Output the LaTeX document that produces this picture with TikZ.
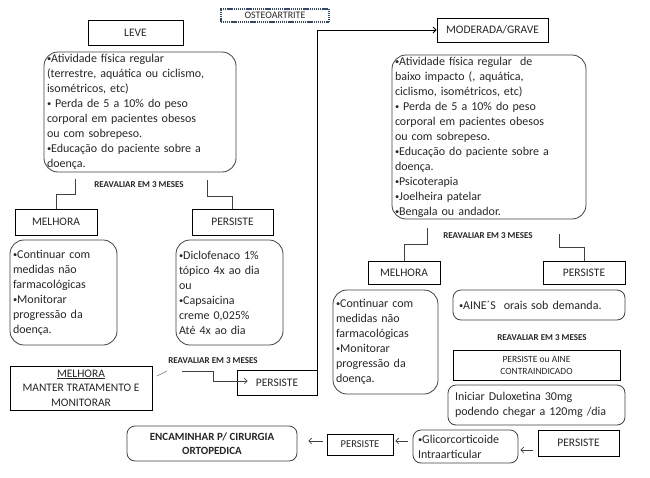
\documentclass[tikz,border=0pt]{standalone}
\usepackage{fontspec}
\setmainfont{Carlito}
\usetikzlibrary{arrows.meta,calc}
\definecolor{navy}{RGB}{47,72,120}
\newcommand\bl{\raisebox{0.12ex}{\scalebox{0.7}{•}}}
\begin{document}
\begin{tikzpicture}[x=1pt,y=-1pt,
  every node/.style={text=black!85},
  sq/.style={draw=black, line width=0.8pt, inner sep=0pt, font=\fontsize{11.5}{13}\selectfont},
  rb/.style={draw=black!75, line width=0.8pt, rounded corners=14pt, inner xsep=3pt, inner ysep=0pt, align=left, font=\fontsize{12}{15}\selectfont},
  rs/.style={rb, rounded corners=8pt},
  rv/.style={font=\bfseries\fontsize{9}{10}\selectfont, inner sep=0pt},
  ln/.style={draw=black!75, line width=0.6pt},
  ar/.style={ln, -{Straight Barb[length=3pt,width=6pt]}}
]
\useasboundingbox (0,0) rectangle (650,477);

% top level
\node[sq, draw=navy, line width=1.6pt, dash pattern=on 1.2pt off 0.7pt, minimum width=108pt, minimum height=13pt, font=\fontsize{10}{11}\selectfont] (osteo) at (275,15.5) {OSTEOARTRITE};
\node[sq, minimum width=95pt, minimum height=25pt] (leve) at (135.5,32.5) {LEVE};
\node[sq, minimum width=111pt, minimum height=24pt] (mod) at (492.5,30) {MODERADA/GRAVE};

% LEVE branch
\node[rb, text width=186pt, minimum width=192pt, minimum height=120pt] (lbox) at (140,112) {%
\bl Atividade física regular\\
(terrestre, aquática ou ciclismo,\\
isométricos, etc)\\
\bl{} Perda de 5 a 10\% do peso\\
corporal em pacientes obesos\\
ou com sobrepeso.\\
\bl Educação do paciente sobre a\\
doença.};
\node[rv] (rv1) at (139,185) {REAVALIAR EM 3 MESES};
\node[sq, minimum width=82pt, minimum height=26pt] (m1) at (56,222) {MELHORA};
\node[sq, minimum width=81pt, minimum height=26pt] (p1) at (232.5,222) {PERSISTE};
\node[rb, text width=101pt, minimum width=107pt, minimum height=105pt] (mb1) at (63.5,292.5) {%
\bl Continuar com\\
medidas não\\
farmacológicas\\
\bl Monitorar\\
progressão da\\
doença.};
\node[rb, text width=101pt, minimum width=107pt, minimum height=105pt] (db) at (229.5,292.5) {%
\bl Diclofenaco 1\%\\
tópico 4x ao dia\\
ou\\
\bl Capsaicina\\
creme 0,025\%\\
Até 4x ao dia};
\node[rv] (rv2) at (213,361) {REAVALIAR EM 3 MESES};
\node[sq, minimum width=142pt, minimum height=44pt, align=center, font=\fontsize{11.5}{14.5}\selectfont] (manter) at (81,388) {\underline{MELHORA}\\MANTER TRATAMENTO E\\MONITORAR};
\node[sq, minimum width=80pt, minimum height=25pt] (p3) at (277,382.5) {PERSISTE};

% MODERADA branch
\node[rb, text width=188pt, minimum width=194pt, minimum height=164pt] (rbox) at (489,137) {%
\bl Atividade física regular\ \ de\\
baixo impacto (, aquática,\\
ciclismo, isométricos, etc)\\
\bl{} Perda de 5 a 10\% do peso\\
corporal em pacientes obesos\\
ou com sobrepeso.\\
\bl Educação do paciente sobre a\\
doença.\\
\bl Psicoterapia\\
\bl Joelheira patelar\\
\bl Bengala ou andador.};
\node[rv] (rv3) at (488,236) {REAVALIAR EM 3 MESES};
\node[sq, minimum width=72pt, minimum height=23pt] (m2) at (404,272.5) {MELHORA};
\node[sq, minimum width=82pt, minimum height=23pt] (p2) at (584,272.5) {PERSISTE};
\node[rb, text width=99pt, minimum width=105pt, minimum height=104pt] (mb2) at (385.5,342) {%
\bl Continuar com\\
medidas não\\
farmacológicas\\
\bl Monitorar\\
progressão da\\
doença.};
\node[rs, inner xsep=6pt, text width=160pt, minimum width=172pt, minimum height=30pt] (aine) at (539,305) {\bl AINE´S\ \ orais sob demanda.};
\node[rv] (rv4) at (542,338) {REAVALIAR EM 3 MESES};
\node[sq, minimum width=167pt, minimum height=30pt, align=center, font=\fontsize{9.5}{12}\selectfont] (pa) at (536.5,365) {PERSISTE ou AINE\\CONTRAINDICADO};
\node[rs, inner xsep=7pt, text width=163pt, minimum width=177pt, minimum height=40pt] (dul) at (536.5,405) {%
Iniciar Duloxetina 30mg\\
podendo chegar a 120mg /dia};
\node[sq, minimum width=81pt, minimum height=26pt] (p4) at (578.5,443) {PERSISTE};
\node[rs, inner xsep=5pt, text width=95pt, minimum width=105pt, minimum height=33pt] (gli) at (465.5,446.5) {%
\bl Glicorcorticoide\\
Intraarticular};
\node[sq, minimum width=66pt, minimum height=21pt, font=\fontsize{10.5}{12}\selectfont] (p5) at (360,444.5) {PERSISTE};
\node[rs, minimum width=170pt, minimum height=35pt, align=center, font=\bfseries\fontsize{11}{14}\selectfont] (enc) at (212,443.5) {ENCAMINHAR P/ CIRURGIA\\ORTOPEDICA};

% connectors
\draw[ln] ($(lbox.south west)+(32,7)$) -- ++(0,15) -| (m1.north);
\draw[ln] ($(lbox.south east)+(-29,8)$) -- ++(0,16) -| (p1.north);
\draw[ln] ($(rbox.south west)+(36,9)$) -- ++(0,16) -| (m2.north);
\draw[ln] ($(rbox.south east)+(-27,15)$) -- ++(0,13) -| (p2.north);
\draw[ar, draw=black, line width=0.8pt] (p3.north east) -- (p3.north east |- mod.west) -- (mod.west);
\coordinate (g0) at (182,371);
\draw[ar] (g0) -- ++(31,0) -- ++(0,10) -- ($(p3.west)+(11,-1.5)$);
\coordinate (d0) at (157,376);
\draw[ln, draw=black!55] (d0) -- ++(10,-5);
\draw[ar] ($(p4.west)+(-5,7)$) -- ($(gli.east)+(2,3.5)$);
\draw[ar] ($(gli.west)+(-5,-5.5)$) -- ($(p5.east)+(2,-3.5)$);
\draw[ar] ($(p5.west)+(-4,-3.5)$) -- ($(enc.east)+(11,-2.5)$);
\end{tikzpicture}
\end{document}
